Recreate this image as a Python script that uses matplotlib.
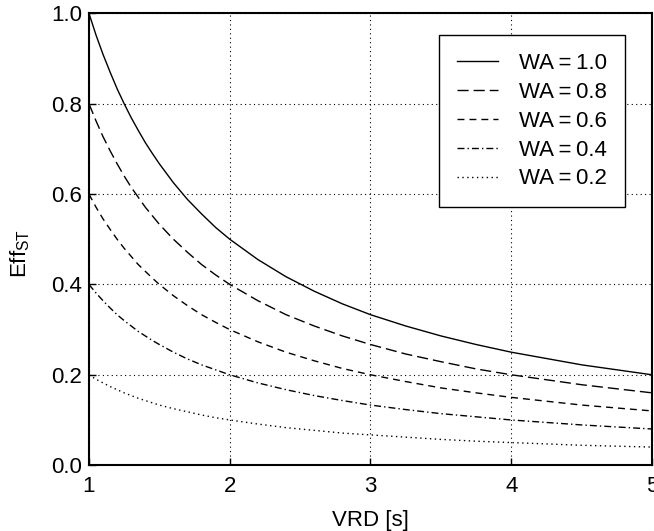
import numpy as np
import matplotlib
matplotlib.use('Agg')
import matplotlib.pyplot as plt

plt.rcParams['font.family'] = ['Liberation Sans', 'DejaVu Sans']
plt.rcParams['font.size'] = 16
plt.rcParams['mathtext.fontset'] = 'custom'
plt.rcParams['mathtext.rm'] = 'Liberation Sans'

# values
vrd = [1.0, 1.05, 1.1, 1.15, 1.2, 1.25, 1.3, 1.35, 1.4, 1.45, 1.5,
       1.6, 1.7, 1.8, 1.9, 2.0, 2.2, 2.4, 2.6, 2.8, 3.0,
       3.25, 3.5, 3.75, 4.0, 4.5, 5.0]
eff_10 = [1.0, 0.952, 0.909, 0.870, 0.833, 0.8, 0.769, 0.741, 0.714, 0.690, 0.667,
          0.625, 0.588, 0.556, 0.526, 0.5, 0.455, 0.417, 0.385, 0.357, 0.333,
          0.308, 0.286, 0.267, 0.25, 0.222, 0.2]
eff_08 = [0.8, 0.762, 0.727, 0.696, 0.667, 0.64, 0.615, 0.593, 0.571, 0.552, 0.533,
          0.5, 0.471, 0.444, 0.421, 0.4, 0.364, 0.333, 0.308, 0.286, 0.267,
          0.246, 0.229, 0.213, 0.2, 0.178, 0.16]
eff_06 = [0.6, 0.571, 0.545, 0.522, 0.5, 0.48, 0.462, 0.444, 0.429, 0.414, 0.4,
          0.375, 0.353, 0.333, 0.316, 0.3, 0.273, 0.25, 0.231, 0.214, 0.2,
          0.185, 0.171, 0.16, 0.15, 0.133, 0.12]
eff_04 = [0.4, 0.381, 0.364, 0.348, 0.333, 0.32, 0.308, 0.296, 0.286, 0.276, 0.267,
          0.25, 0.235, 0.222, 0.211, 0.2, 0.182, 0.167, 0.154, 0.143, 0.133,
          0.123, 0.114, 0.107, 0.1, 0.089, 0.08]
eff_02 = [0.2, 0.190, 0.182, 0.174, 0.167, 0.16, 0.154, 0.148, 0.143, 0.138, 0.133,
          0.125, 0.118, 0.111, 0.105, 0.1, 0.091, 0.083, 0.077, 0.071, 0.067,
          0.062, 0.057, 0.053, 0.05, 0.044, 0.04]

labels = ['WA\u2009=\u20091.0', 'WA\u2009=\u20090.8', 'WA\u2009=\u20090.6',
          'WA\u2009=\u20090.4', 'WA\u2009=\u20090.2']
series = [eff_10, eff_08, eff_06, eff_04, eff_02]
styles = ['-', (0, (8, 3.6)), (0, (5, 3.6)), (0, (5, 2.2, 1, 2.2)), (0, (1, 2.5))]

fig = plt.figure(figsize=(6.54, 5.31), dpi=100)
ax = fig.add_axes([0.136, 0.124, 0.861, 0.851])

for y, lab, ls in zip(series, labels, styles):
    ax.plot(vrd, y, color='black', linestyle=ls, linewidth=1.0, label=lab)

ax.set_xlim(1, 5)
ax.set_ylim(0, 1)
ax.set_xticks([1, 2, 3, 4, 5])
ax.set_yticks(np.arange(0, 1.01, 0.2))
ax.set_yticklabels(['%.1f' % v for v in np.arange(0, 1.01, 0.2)])
ax.grid(True, color='black', linestyle=(0, (1, 3)), linewidth=0.8)
ax.tick_params(direction='in', length=5, width=1, top=False, right=False,
               labelsize=16)
ax.tick_params(axis='x', pad=8)
ax.tick_params(axis='y', pad=5)
for s in ax.spines.values():
    s.set_linewidth(1.5)

ax.set_xlabel('VRD [s]', fontsize=16, labelpad=9)
ax.set_ylabel('$\\mathrm{Eff}_{\\mathrm{ST}}$', fontsize=16, labelpad=14)
ax.yaxis.label.set_y(0.469)

leg = ax.legend(loc='upper right', bbox_to_anchor=(0.952, 0.951), borderaxespad=0,
                fancybox=False, edgecolor='black', framealpha=1, fontsize=16,
                handlelength=1.85, labelspacing=0.35, borderpad=0.8,
                handletextpad=0.95)
leg.get_frame().set_linewidth(1.0)

fig.savefig('out.png', dpi=100)
